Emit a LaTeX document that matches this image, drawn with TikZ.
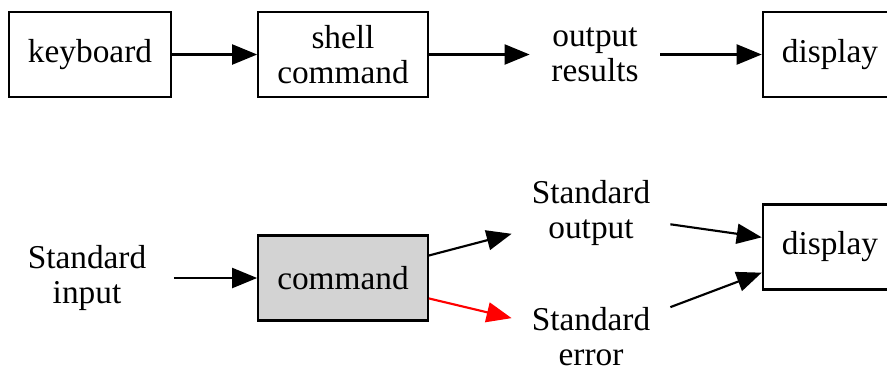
\documentclass[tikz,border=0pt]{standalone}
\usepackage{fontspec}
\setmainfont{Liberation Serif}
\usetikzlibrary{arrows.meta}
\definecolor{cmdgray}{RGB}{211,211,211}

\begin{document}
\begin{tikzpicture}[x = 0.42pt, y = -0.42pt, line width = 0.9pt,
    font = \fontsize{14}{14.7}\selectfont,
    box/.style = {draw, rectangle, minimum height = 35.7pt, inner xsep = 8pt, align = center},
    txt/.style = {rectangle, minimum height = 36pt, minimum width = 54pt, inner xsep = 8pt, align = center},
    arr/.style = {-{Triangle[length = 10.5pt, width = 8.4pt]}}]
\useasboundingbox (0,0) rectangle (887,371);
\clip (0,0) rectangle (887,371);
\draw (90,54.5) node[box](a1){keyboard}
    (343,54.5) node[box](a2){shell\\command}
    (595,54.5) node[txt](a3){output\\results}
    (830,54.5) node[box](a4){display};
    \draw [arr] (a1) -- (a2);
    \draw [arr] (a2) -- (a3);
    \draw [arr] (a3) -- (a4);
\draw (87,278) node[txt, minimum width = 72pt](b1){Standard\\input}
    (343,278) node[box, fill = cmdgray](b2){command}
    (591,213) node[txt](b3){Standard\\output}
    (591,337) node[txt](b4){Standard\\error}
    (830,247) node[box](b5){display};
    \draw [arr] (b1) -- (b2);
    \draw [arr] (b2) -- (b3);
    \draw [arr, red] (b2) -- (b4);
    \draw [arr] (b3) -- (b5);
    \draw [arr] (b4) -- (b5);
\end{tikzpicture}
\end{document}
